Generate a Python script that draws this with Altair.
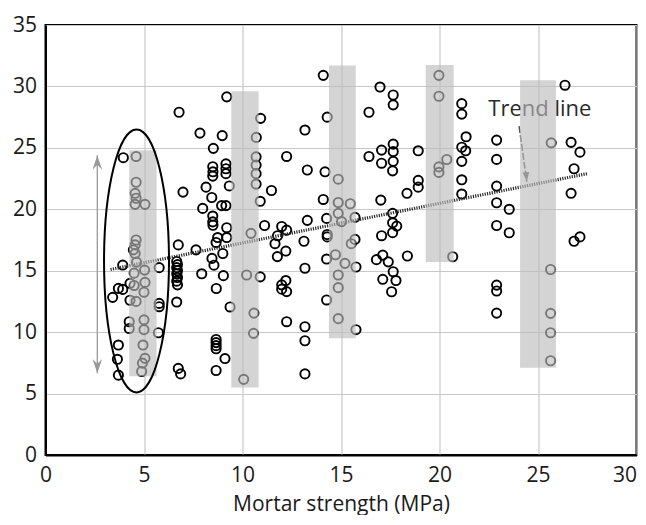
import altair as alt
import pandas as pd

# ---- data ----
pt_x = [
    3.95, 3.92, 3.70, 3.92, 3.41, 4.29, 4.29, 4.25, 4.25, 3.70, 3.65, 3.70,
    4.60, 4.60, 4.55, 4.60, 4.55, 5.05, 4.60, 4.55, 4.46, 4.55, 4.62, 5.03, 4.50, 5.05, 4.50, 5.00, 4.60, 5.00, 5.00, 4.95, 5.05, 4.92, 4.88,
    5.77, 5.77, 5.77, 5.73,
    6.78, 6.98, 6.74, 6.66, 6.70, 6.66, 6.70, 6.66, 6.70, 6.66, 6.70, 6.66, 6.74, 6.86,
    7.84, 8.97, 9.20, 8.52, 8.49, 8.50, 8.49, 9.16, 9.16, 9.16, 8.15, 9.33, 8.44, 7.98, 8.94, 9.16, 8.49, 8.49, 8.50, 9.20,
    7.64, 8.74, 8.66, 9.20,
    7.93, 8.45, 8.55, 9.00, 9.03, 8.67, 9.37, 8.66, 8.66, 8.66, 8.66, 9.11, 8.66,
    10.92, 10.70, 10.69, 10.69, 10.69, 10.69, 10.90, 10.43, 11.47, 11.12, 10.21, 10.90, 10.58, 10.56, 10.06,
    12.24, 13.17, 13.29, 11.99, 12.24, 11.78, 11.65, 11.77, 12.20, 13.29, 13.12, 12.20, 11.99, 11.99, 12.24, 13.17, 12.24, 13.17, 13.17, 13.17,
    14.10, 14.30, 14.19, 14.86, 14.10, 14.86, 15.47, 14.86, 14.27, 15.03, 15.71, 14.30, 14.30, 15.52, 15.71, 14.27, 14.72, 15.20, 15.76, 14.86, 14.86, 14.27, 14.86, 15.76,
    16.98, 17.65, 17.65, 16.42, 17.65, 17.06, 17.65, 16.42, 17.06, 17.65, 17.62, 18.92, 17.02, 18.92, 18.92, 18.35, 17.62, 17.62, 17.83, 17.62, 17.06,
    16.80, 17.12, 17.40, 18.37, 17.65, 17.12, 17.79, 17.57,
    19.97, 19.97, 20.37, 19.97, 19.97, 20.67, 21.13, 21.13, 21.35, 21.13, 21.33, 21.13, 21.13, 21.13,
    22.90, 22.90, 22.90, 22.90, 23.54, 22.90, 23.54, 22.90, 22.90, 22.90,
    25.67, 25.64, 25.64, 25.64, 25.64, 26.37, 26.68, 27.13, 26.83, 26.68, 26.83, 27.13,
]
pt_y = [
    24.20, 15.46, 13.56, 13.48, 12.83, 13.97, 12.60, 10.85, 10.30, 8.95, 7.79, 6.50,
    24.30, 22.20, 21.30, 20.90, 20.40, 20.40, 17.50, 17.10, 16.70, 16.40, 15.70, 15.05, 14.80, 14.05, 13.80, 13.25, 12.50, 11.00, 10.20, 8.95, 7.87, 7.48, 6.80,
    15.25, 12.34, 12.07, 9.95,
    27.90, 21.40, 17.10, 15.75, 15.50, 15.25, 15.00, 14.75, 14.45, 14.15, 13.85, 12.45, 7.05, 6.60,
    26.20, 26.00, 29.15, 24.96, 23.46, 23.05, 22.70, 23.70, 23.30, 22.90, 21.80, 21.90, 20.96, 20.07, 20.30, 20.30, 19.45, 18.98, 18.70, 18.50,
    16.70, 17.70, 17.30, 17.70,
    14.75, 16.00, 15.45, 16.40, 14.60, 13.55, 12.05, 9.40, 9.15, 8.90, 8.65, 7.85, 6.88,
    27.40, 25.85, 24.27, 23.60, 22.90, 22.05, 20.65, 18.04, 21.53, 18.68, 14.65, 14.50, 11.55, 9.90, 6.16,
    24.30, 26.45, 23.20, 18.60, 18.30, 17.85, 17.20, 16.15, 16.60, 19.10, 17.40, 14.20, 13.85, 13.50, 13.30, 15.20, 10.85, 10.44, 9.30, 6.60,
    30.90, 27.50, 23.05, 22.45, 20.80, 20.55, 20.45, 19.67, 19.26, 19.00, 19.34, 17.95, 17.75, 17.20, 17.55, 15.95, 16.30, 15.60, 15.30, 14.65, 13.62, 12.62, 11.10, 10.20,
    29.95, 29.30, 28.50, 27.90, 25.30, 24.82, 24.70, 24.30, 23.75, 23.90, 23.13, 24.76, 20.75, 22.35, 21.80, 21.30, 19.67, 18.90, 18.63, 18.10, 17.85,
    15.90, 16.27, 15.72, 16.20, 14.92, 14.30, 14.20, 13.29,
    30.90, 29.20, 24.05, 23.45, 23.00, 16.14, 28.60, 27.75, 25.90, 25.05, 24.76, 23.90, 22.40, 21.24,
    25.63, 24.06, 21.89, 20.53, 20.00, 18.68, 18.09, 13.83, 13.35, 11.55,
    25.41, 15.10, 11.53, 9.95, 7.67, 30.10, 25.45, 24.65, 23.30, 21.30, 17.40, 17.75,
]

bar_x0 = [4.25, 9.43, 14.39, 19.30, 24.09]
bar_x1 = [5.64, 10.82, 15.75, 20.72, 25.91]
bar_y0 = [6.4, 5.5, 9.5, 15.7, 7.1]
bar_y1 = [24.8, 29.6, 31.7, 31.75, 30.5]

trend_x = [3.3, 27.5]
trend_y = [15.1, 22.9]

ellipse_x = [4.62]
ellipse_y = [15.8]

range_arrow_x = [2.63, 2.63]
range_arrow_y = [24.4, 6.65]

label_text = ["Trend line"]
label_x = [22.48]
label_y = [27.58]

pointer_x = [24.04, 24.43]
pointer_y = [26.77, 22.24]

x_ticks = [0, 5, 10, 15, 20, 25, 30]
y_ticks = [0, 5, 10, 15, 20, 25, 30, 35]

FONT = "Open Sans"

# ---- build tables ----
pts = pd.DataFrame({"x": pt_x, "y": pt_y})
bars = pd.DataFrame({"x": bar_x0, "x2": bar_x1, "y": bar_y0, "y2": bar_y1})
trend = pd.DataFrame({"x": trend_x, "y": trend_y})
ell = pd.DataFrame({"x": ellipse_x, "y": ellipse_y})
rng = pd.DataFrame({"x": range_arrow_x, "y": range_arrow_y})
rng_top = rng.iloc[[0]]
rng_bot = rng.iloc[[1]]
lab = pd.DataFrame({"x": label_x, "y": label_y, "t": label_text})
ptr = pd.DataFrame({"x": pointer_x, "y": pointer_y})
ptr_tip = ptr.iloc[[1]]

xscale = alt.Scale(domain=[0, 30], nice=False)
yscale = alt.Scale(domain=[0, 35], nice=False)
xaxis = alt.Axis(
    values=x_ticks, title="Mortar strength (MPa)",
    labelAlign={"condition": {"test": "datum.value == 30", "value": "right"}, "value": "center"},
)
yaxis = alt.Axis(values=y_ticks, title=None)


def X():
    return alt.X("x:Q", scale=xscale, axis=xaxis)


def Y():
    return alt.Y("y:Q", scale=yscale, axis=yaxis)


points = alt.Chart(pts).mark_point(
    shape="circle", size=85, filled=False, color="black", strokeWidth=1.9, opacity=1
).encode(x=X(), y=Y())

trend_line = alt.Chart(trend).mark_line(
    color="#2a2a2a", strokeWidth=3.2, strokeDash=[1.2, 1.2]
).encode(x=X(), y=Y())

label = alt.Chart(lab).mark_text(
    align="left", baseline="alphabetic", font=FONT, fontSize=22, color="#2a2a2a"
).encode(x=X(), y=Y(), text="t:N")

pointer = alt.Chart(ptr).mark_line(
    color="#555555", strokeWidth=1.5, strokeDash=[7, 2]
).encode(x=X(), y=Y())

pointer_head = alt.Chart(ptr_tip).mark_point(
    shape="M0,0L-0.55,-1.6L0.55,-1.6Z", size=144, filled=True, color="#555555",
    opacity=1, angle=355
).encode(x=X(), y=Y())

rects = alt.Chart(bars).mark_rect(color="#bbbbbb", opacity=0.64).encode(
    x=X(), x2="x2:Q", y=Y(), y2="y2:Q"
)

ellipse = alt.Chart(ell).mark_point(
    shape=("M0,-1C0.1364,-1 0.247,-0.5523 0.247,0C0.247,0.5523 0.1364,1 0,1"
           "C-0.1364,1 -0.247,0.5523 -0.247,0C-0.247,-0.5523 -0.1364,-1 0,-1Z"),
    size=69169, filled=False, color="black", strokeWidth=2, opacity=1
).encode(x=X(), y=Y())

range_line = alt.Chart(rng).mark_line(color="#999999", strokeWidth=1.3).encode(
    x=X(), y=Y()
)
range_top = alt.Chart(rng_top).mark_point(
    shape="M0,0L0.6,1.8L0,1.2L-0.6,1.8Z", size=256, filled=True, color="#999999", opacity=1
).encode(x=X(), y=Y())
range_bot = alt.Chart(rng_bot).mark_point(
    shape="M0,0L0.6,-1.8L0,-1.2L-0.6,-1.8Z", size=256, filled=True, color="#999999", opacity=1
).encode(x=X(), y=Y())

chart = alt.layer(
    points, trend_line, label, pointer, pointer_head, rects, ellipse,
    range_line, range_top, range_bot
).properties(
    width=591, height=430,
    padding={"left": 37.5, "top": 17, "right": 1.5, "bottom": 60},
    autosize=alt.AutoSizeParams(type="none"),
).configure_view(
    stroke="black", strokeWidth=2
).configure_axis(
    grid=True, gridColor="#c8c8c8", gridWidth=1.2,
    domainColor="black", domainWidth=2, ticks=False,
    labelFont=FONT, labelFontSize=21, labelColor="#1a1a1a",
    titleFont=FONT, titleFontSize=21, titleFontWeight="normal", titleColor="#1a1a1a",
).configure_axisX(
    labelPadding=9, titlePadding=8
).configure_axisY(
    labelPadding=9
)

chart.save("out.html", embed_options={"renderer": "svg", "actions": False})
